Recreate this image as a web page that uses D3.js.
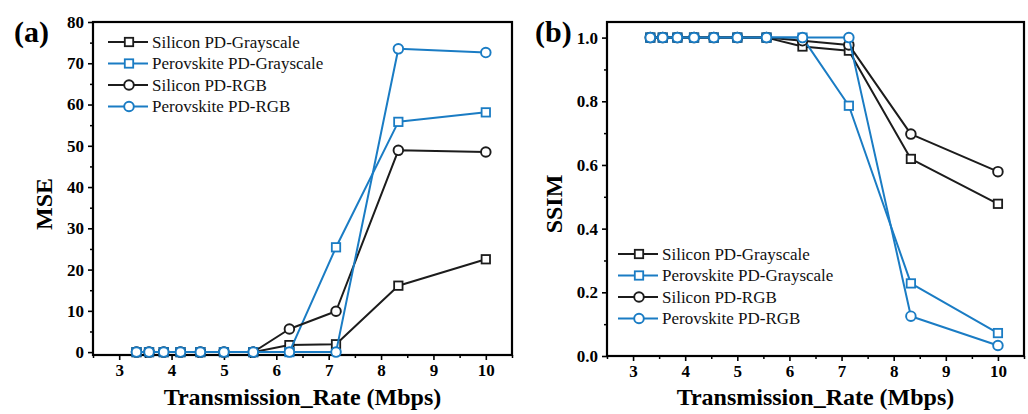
<!DOCTYPE html>
<html>
<head>
<meta charset="utf-8">
<script src="https://cdn.jsdelivr.net/npm/d3@7"></script>
<style>
  body { margin: 0; background: #fff; }
  svg text { font-family: "Liberation Serif", "Times New Roman", serif; }
</style>
</head>
<body>
<div class="canvas"></div>
<script>
// transmission rates (Mbps)
const rates = [3.33, 3.57, 3.85, 4.17, 4.55, 5, 5.56, 6.25, 7.14, 8.33, 10]
const seriesNames = ['Silicon PD-Grayscale', 'Perovskite PD-Grayscale', 'Silicon PD-RGB', 'Perovskite PD-RGB']

// MSE values
const mseSiGray = [0, 0, 0, 0, 0, 0, 0, 1.7, 1.9, 16.1, 22.5]
const msePeGray = [0, 0, 0, 0, 0, 0, 0, 0, 25.4, 55.8, 58.1]
const mseSiRgb  = [0, 0, 0, 0, 0, 0, 0, 5.6, 9.9, 48.9, 48.5]
const msePeRgb  = [0, 0, 0, 0, 0, 0, 0, 0, 0, 73.5, 72.6]

// SSIM values
const ssimSiGray = [1, 1, 1, 1, 1, 1, 1, 0.972, 0.959, 0.619, 0.478]
const ssimPeGray = [1, 1, 1, 1, 1, 1, 1, 1, 0.786, 0.228, 0.072]
const ssimSiRgb  = [1, 1, 1, 1, 1, 1, 1, 0.99, 0.977, 0.697, 0.579]
const ssimPeRgb  = [1, 1, 1, 1, 1, 1, 1, 1, 1, 0.125, 0.033]

// tick labels
const xTicks = [3, 4, 5, 6, 7, 8, 9, 10]
const mseTicks = [0, 10, 20, 30, 40, 50, 60, 70, 80]
const ssimTicks = [0, 0.2, 0.4, 0.6, 0.8, 1.0]

const black = '#1c1c1c'
const blue = '#1a7cc4'
const styles = [
    {colour: black, shape: 'square'},
    {colour: blue, shape: 'square'},
    {colour: black, shape: 'circle'},
    {colour: blue, shape: 'circle'},
]

const svg = d3.select('.canvas')
    .append('svg')
    .attr('width', 1028)
    .attr('height', 414)

const drawMarker = (g, shape, colour) => {
    if (shape === 'square') {
        g.append('rect')
            .attr('x', -4.2).attr('y', -4.2)
            .attr('width', 8.4).attr('height', 8.4)
            .attr('fill', '#fff')
            .attr('stroke', colour)
            .attr('stroke-width', 1.8)
    } else {
        g.append('circle')
            .attr('r', 4.8)
            .attr('fill', '#fff')
            .attr('stroke', colour)
            .attr('stroke-width', 1.9)
    }
}

const styleTicks = a => a.selectAll('text')
    .attr('fill', '#000')
    .attr('font-size', 17)
    .attr('font-weight', 'bold')
    .style('font-family', '"Liberation Serif", serif')

const drawPanel = (cfg) => {
    const x = d3.scaleLinear().domain([2.5, 10.5]).range([cfg.left, cfg.right])
    const y = d3.scaleLinear().domain(cfg.yDomain).range([cfg.bottom, cfg.top])

    const g = svg.append('g')

    // minor ticks
    const xMinor = d3.range(2.5, 10.51, 0.5).filter(v => !xTicks.includes(v))
    g.append('g')
        .attr('transform', `translate(0, ${cfg.bottom})`)
        .call(d3.axisBottom(x).tickValues(xMinor).tickSize(3).tickFormat(''))
        .call(a => a.select('.domain').remove())
        .call(a => a.selectAll('line').attr('stroke', '#000').attr('stroke-width', 1.5))
    g.append('g')
        .attr('transform', `translate(${cfg.left}, 0)`)
        .call(d3.axisLeft(y).tickValues(cfg.yMinor).tickSize(3).tickFormat(''))
        .call(a => a.select('.domain').remove())
        .call(a => a.selectAll('line').attr('stroke', '#000').attr('stroke-width', 1.5))

    // major ticks
    g.append('g')
        .attr('transform', `translate(0, ${cfg.bottom})`)
        .call(d3.axisBottom(x).tickValues(xTicks).tickSize(5).tickPadding(4).tickFormat(d3.format('d')))
        .call(a => a.select('.domain').remove())
        .call(a => a.selectAll('line').attr('stroke', '#000').attr('stroke-width', 1.6))
        .call(styleTicks)
    g.append('g')
        .attr('transform', `translate(${cfg.left}, 0)`)
        .call(d3.axisLeft(y).tickValues(cfg.yTicks).tickSize(5).tickPadding(4).tickFormat(cfg.yFormat))
        .call(a => a.select('.domain').remove())
        .call(a => a.selectAll('line').attr('stroke', '#000').attr('stroke-width', 1.6))
        .call(styleTicks)

    // frame
    g.append('rect')
        .attr('x', cfg.left).attr('y', cfg.top)
        .attr('width', cfg.right - cfg.left)
        .attr('height', cfg.bottom - cfg.top)
        .attr('fill', 'none')
        .attr('stroke', '#000')
        .attr('stroke-width', 2.2)

    const line = d3.line()
        .x((d, i) => x(rates[i]))
        .y(d => y(d))

    cfg.series.forEach((vals, k) => {
        const st = styles[k]
        g.append('path')
            .attr('d', line(vals))
            .attr('fill', 'none')
            .attr('stroke', st.colour)
            .attr('stroke-width', 2)
            .attr('stroke-linejoin', 'round')
        vals.forEach((v, i) => {
            const m = g.append('g').attr('transform', `translate(${x(rates[i])}, ${y(v)})`)
            drawMarker(m, st.shape, st.colour)
        })
    })

    // legend
    const legend = g.append('g')
        .attr('transform', `translate(${cfg.legX}, ${cfg.legY})`)
    seriesNames.forEach((name, k) => {
        const st = styles[k]
        const row = legend.append('g').attr('transform', `translate(0, ${k * 21.5})`)
        row.append('line')
            .attr('x1', 0).attr('x2', 40)
            .attr('stroke', st.colour)
            .attr('stroke-width', 2)
        drawMarker(row.append('g').attr('transform', 'translate(21, 0)'), st.shape, st.colour)
        row.append('text')
            .attr('x', 44)
            .attr('y', 5.5)
            .attr('font-size', 17)
            .attr('fill', '#111')
            .text(name)
    })

    // axis titles
    g.append('text')
        .attr('x', (cfg.left + cfg.right) / 2)
        .attr('y', 405)
        .attr('text-anchor', 'middle')
        .attr('font-size', 24)
        .attr('font-weight', 'bold')
        .text('Transmission_Rate (Mbps)')
    g.append('text')
        .attr('transform', `translate(${cfg.yTitleX}, 204) rotate(-90)`)
        .attr('text-anchor', 'middle')
        .attr('font-size', 24)
        .attr('font-weight', 'bold')
        .text(cfg.yTitle)

    // panel letter
    g.append('text')
        .attr('x', cfg.letterX)
        .attr('y', 42)
        .attr('font-size', 30)
        .attr('font-weight', 'bold')
        .text(cfg.letter)
}

drawPanel({
    left: 93, right: 512, top: 22, bottom: 355,
    yDomain: [-0.7, 80],
    yTicks: mseTicks,
    yMinor: d3.range(5, 80, 10),
    yFormat: d3.format('d'),
    series: [mseSiGray, msePeGray, mseSiRgb, msePeRgb],
    legX: 108, legY: 42,
    yTitle: 'MSE', yTitleX: 52,
    letter: '(a)', letterX: 14
})

drawPanel({
    left: 607, right: 1024, top: 22, bottom: 356,
    yDomain: [0, 1.049],
    yTicks: ssimTicks,
    yMinor: d3.range(0.1, 1.0, 0.2),
    yFormat: d3.format('.1f'),
    series: [ssimSiGray, ssimPeGray, ssimSiRgb, ssimPeRgb],
    legX: 618, legY: 254,
    yTitle: 'SSIM', yTitleX: 562,
    letter: '(b)', letterX: 535
})
</script>
</body>
</html>
